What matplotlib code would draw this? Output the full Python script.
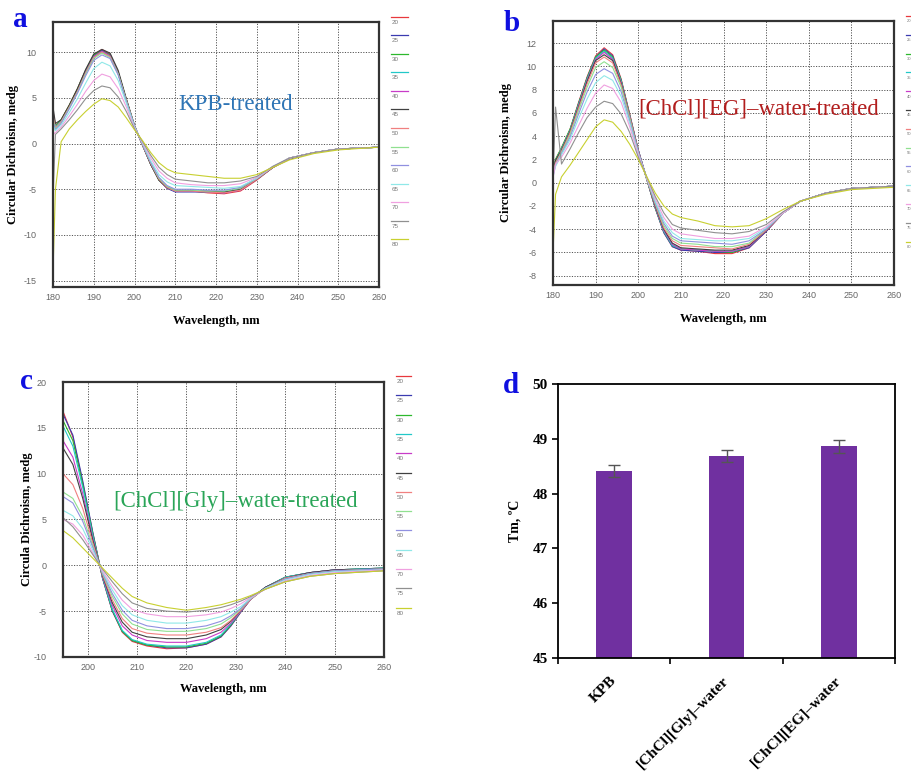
import matplotlib
matplotlib.use("Agg")
import matplotlib.pyplot as plt
from matplotlib.lines import Line2D

plt.rcParams['axes.unicode_minus'] = False

# -----------------------------------------------------------------------------
# data
# -----------------------------------------------------------------------------
temps = [20, 25, 30, 35, 40, 45, 50, 55, 60, 65, 70, 75, 80]
temp_colors = ['#e8383d', '#3b3bb0', '#2db82d', '#22c8c8', '#c83cc8', '#404040',
               '#f08080', '#90e090', '#9090e0', '#90e8e8', '#f0a0e0', '#909090',
               '#c8d030']

wl_a = [180, 180.6, 182, 184, 186, 188, 190, 192, 194, 196, 198, 200, 202, 204,
        206, 208, 210, 214, 218, 222, 226, 230, 234, 238, 244, 250, 260]
cd_a = [
    [3.5, 2.0, 2.6, 4.2, 6.0, 8.0, 9.7, 10.3, 9.8, 7.8, 4.8, 1.9, -0.2, -2.3, -4.0, -4.9, -5.2, -5.2, -5.4, -5.5, -5.2, -4.0, -2.6, -1.7, -1.0, -0.6, -0.4],
    [3.0, 1.8, 2.5, 4.1, 5.9, 7.9, 9.6, 10.2, 9.7, 7.7, 4.7, 1.9, -0.2, -2.3, -4.0, -4.9, -5.3, -5.3, -5.3, -5.4, -5.1, -3.9, -2.6, -1.7, -1.0, -0.6, -0.4],
    [2.8, 1.9, 2.6, 4.2, 6.0, 8.0, 9.7, 10.1, 9.7, 7.8, 4.8, 1.9, -0.2, -2.3, -4.0, -4.8, -5.2, -5.2, -5.3, -5.3, -5.0, -3.9, -2.6, -1.6, -1.0, -0.6, -0.4],
    [3.2, 1.8, 2.5, 4.0, 5.8, 7.8, 9.5, 10.0, 9.6, 7.7, 4.7, 1.9, -0.2, -2.2, -3.9, -4.8, -5.2, -5.2, -5.3, -5.3, -5.0, -3.9, -2.6, -1.6, -1.0, -0.6, -0.4],
    [2.5, 1.7, 2.4, 4.0, 5.8, 7.8, 9.5, 10.1, 9.6, 7.7, 4.7, 1.9, -0.2, -2.2, -3.9, -4.8, -5.2, -5.2, -5.3, -5.4, -5.1, -3.9, -2.6, -1.6, -1.0, -0.6, -0.4],
    [4.0, 2.2, 2.6, 4.2, 6.0, 8.1, 9.8, 10.3, 9.9, 8.0, 4.9, 2.0, -0.2, -2.3, -4.0, -4.8, -5.1, -5.1, -5.2, -5.3, -5.0, -3.9, -2.6, -1.6, -1.0, -0.6, -0.4],
    [3.0, 1.7, 2.4, 4.0, 5.7, 7.7, 9.4, 10.0, 9.5, 7.6, 4.7, 1.9, -0.2, -2.2, -3.9, -4.8, -5.2, -5.2, -5.3, -5.4, -5.1, -3.9, -2.6, -1.6, -1.0, -0.6, -0.4],
    [2.6, 1.6, 2.3, 3.9, 5.6, 7.6, 9.3, 9.9, 9.4, 7.6, 4.7, 1.9, -0.1, -2.1, -3.8, -4.7, -5.1, -5.1, -5.2, -5.2, -4.9, -3.8, -2.5, -1.6, -1.0, -0.6, -0.4],
    [2.4, 1.5, 2.2, 3.8, 5.5, 7.4, 9.1, 9.7, 9.3, 7.5, 4.6, 1.9, -0.1, -2.1, -3.7, -4.6, -5.0, -5.0, -5.1, -5.1, -4.8, -3.8, -2.5, -1.6, -1.0, -0.6, -0.4],
    [2.0, 1.4, 2.0, 3.4, 4.9, 6.6, 8.2, 8.9, 8.5, 6.9, 4.4, 1.8, 0.0, -1.9, -3.4, -4.2, -4.6, -4.7, -4.8, -4.9, -4.7, -3.8, -2.5, -1.6, -1.0, -0.6, -0.4],
    [1.0, 1.2, 1.8, 3.0, 4.3, 5.7, 6.9, 7.6, 7.3, 6.0, 4.0, 1.7, 0.1, -1.6, -3.0, -3.8, -4.3, -4.5, -4.6, -4.6, -4.4, -3.7, -2.5, -1.6, -1.0, -0.6, -0.4],
    [-6.0, 1.0, 1.6, 2.6, 3.7, 4.9, 5.8, 6.3, 6.1, 5.1, 3.5, 1.6, 0.2, -1.3, -2.6, -3.4, -3.9, -4.1, -4.3, -4.3, -4.1, -3.6, -2.5, -1.6, -1.0, -0.6, -0.4],
    [-14.0, -5.0, 0.2, 1.6, 2.6, 3.5, 4.3, 4.9, 4.7, 4.0, 2.8, 1.5, 0.3, -1.0, -2.1, -2.8, -3.2, -3.4, -3.6, -3.8, -3.8, -3.4, -2.6, -1.8, -1.1, -0.7, -0.4],
]

wl_b = [180, 180.6, 182, 184, 186, 188, 190, 192, 194, 196, 198, 200, 202, 204,
        206, 208, 210, 214, 218, 222, 226, 230, 234, 238, 244, 250, 260]
cd_b = [
    [1.0, 2.0, 3.0, 4.6, 6.9, 9.1, 10.9, 11.6, 11.0, 8.9, 5.9, 2.8, 0.3, -2.2, -4.3, -5.5, -5.8, -5.9, -6.1, -6.1, -5.6, -4.2, -2.6, -1.6, -0.9, -0.5, -0.3],
    [0.8, 1.8, 2.9, 4.5, 6.8, 9.0, 10.8, 11.5, 10.9, 8.8, 5.8, 2.8, 0.3, -2.2, -4.3, -5.5, -5.8, -5.9, -6.0, -6.0, -5.6, -4.2, -2.6, -1.6, -0.9, -0.5, -0.3],
    [1.2, 2.0, 3.0, 4.6, 6.8, 9.0, 10.8, 11.4, 10.8, 8.8, 5.8, 2.8, 0.3, -2.2, -4.2, -5.4, -5.7, -5.8, -5.9, -6.0, -5.5, -4.1, -2.6, -1.6, -0.9, -0.5, -0.3],
    [0.9, 1.9, 2.9, 4.5, 6.7, 8.9, 10.7, 11.3, 10.7, 8.7, 5.7, 2.8, 0.3, -2.1, -4.2, -5.4, -5.7, -5.8, -5.9, -5.9, -5.5, -4.1, -2.6, -1.6, -0.9, -0.5, -0.3],
    [1.0, 1.8, 2.8, 4.4, 6.6, 8.8, 10.6, 11.2, 10.6, 8.6, 5.7, 2.8, 0.3, -2.1, -4.1, -5.3, -5.7, -5.8, -5.9, -5.9, -5.5, -4.1, -2.6, -1.6, -0.9, -0.5, -0.3],
    [1.1, 1.9, 2.8, 4.4, 6.5, 8.7, 10.5, 11.0, 10.5, 8.5, 5.6, 2.7, 0.3, -2.0, -4.0, -5.2, -5.6, -5.7, -5.8, -5.8, -5.4, -4.1, -2.6, -1.6, -0.9, -0.5, -0.3],
    [0.8, 1.7, 2.7, 4.3, 6.4, 8.5, 10.3, 10.8, 10.3, 8.4, 5.6, 2.7, 0.3, -1.9, -3.9, -5.0, -5.4, -5.5, -5.6, -5.7, -5.3, -4.1, -2.6, -1.6, -0.9, -0.5, -0.3],
    [0.7, 1.6, 2.6, 4.1, 6.2, 8.2, 9.9, 10.4, 9.9, 8.2, 5.5, 2.6, 0.3, -1.8, -3.7, -4.8, -5.2, -5.3, -5.5, -5.5, -5.2, -4.0, -2.6, -1.6, -0.9, -0.5, -0.3],
    [0.6, 1.5, 2.5, 3.9, 5.9, 7.8, 9.3, 9.8, 9.4, 7.8, 5.3, 2.6, 0.4, -1.7, -3.5, -4.6, -5.0, -5.1, -5.2, -5.3, -5.0, -4.0, -2.6, -1.6, -0.9, -0.5, -0.3],
    [0.5, 1.4, 2.4, 3.7, 5.5, 7.2, 8.6, 9.2, 8.8, 7.4, 5.1, 2.5, 0.4, -1.6, -3.3, -4.3, -4.8, -4.9, -5.0, -5.0, -4.8, -3.9, -2.6, -1.6, -0.9, -0.5, -0.3],
    [0.4, 1.6, 2.2, 3.4, 4.9, 6.4, 7.7, 8.4, 8.1, 6.9, 4.8, 2.4, 0.4, -1.4, -3.0, -4.0, -4.4, -4.6, -4.8, -4.8, -4.6, -3.8, -2.6, -1.6, -0.9, -0.5, -0.3],
    [0.2, 6.5, 1.6, 2.9, 4.3, 5.6, 6.5, 7.0, 6.8, 5.9, 4.3, 2.2, 0.5, -1.2, -2.6, -3.6, -3.9, -4.1, -4.3, -4.4, -4.2, -3.6, -2.5, -1.6, -0.9, -0.5, -0.3],
    [-6.0, -1.0, 0.5, 1.5, 2.6, 3.7, 4.8, 5.4, 5.2, 4.4, 3.3, 2.0, 0.5, -0.9, -2.0, -2.7, -3.0, -3.3, -3.7, -3.8, -3.7, -3.1, -2.3, -1.6, -1.0, -0.6, -0.4],
]

wl_c = [195, 197, 199, 201, 203, 205, 207, 209, 212, 216, 220, 224, 227, 229,
        231, 233, 236, 240, 245, 250, 260]
cd_c = [
    [16.8, 14.0, 9.0, 3.6, -1.4, -5.0, -7.3, -8.3, -8.8, -9.1, -9.0, -8.6, -7.8, -6.6, -5.1, -3.7, -2.4, -1.3, -0.8, -0.5, -0.3],
    [16.5, 14.2, 9.2, 3.7, -1.4, -5.0, -7.2, -8.2, -8.7, -9.0, -9.0, -8.6, -7.8, -6.6, -5.1, -3.7, -2.4, -1.3, -0.8, -0.5, -0.3],
    [15.8, 13.6, 8.8, 3.5, -1.3, -4.9, -7.2, -8.2, -8.7, -8.9, -8.9, -8.5, -7.7, -6.5, -5.0, -3.7, -2.4, -1.3, -0.8, -0.5, -0.3],
    [15.2, 13.0, 8.5, 3.3, -1.3, -4.8, -7.1, -8.1, -8.6, -8.8, -8.8, -8.4, -7.6, -6.4, -5.0, -3.6, -2.4, -1.3, -0.8, -0.5, -0.3],
    [13.6, 11.8, 7.8, 3.0, -1.2, -4.4, -6.6, -7.6, -8.2, -8.4, -8.4, -8.0, -7.3, -6.3, -5.0, -3.7, -2.4, -1.4, -0.8, -0.5, -0.4],
    [12.8, 11.0, 7.3, 2.8, -1.1, -4.1, -6.2, -7.3, -7.8, -8.0, -8.0, -7.6, -7.0, -6.1, -4.9, -3.6, -2.4, -1.4, -0.8, -0.5, -0.4],
    [10.0, 8.8, 6.2, 2.5, -1.0, -3.8, -5.8, -6.9, -7.4, -7.6, -7.6, -7.3, -6.8, -6.0, -4.9, -3.7, -2.5, -1.4, -0.9, -0.6, -0.4],
    [8.0, 7.3, 5.3, 2.2, -0.9, -3.4, -5.3, -6.4, -7.0, -7.2, -7.2, -6.9, -6.4, -5.7, -4.8, -3.6, -2.5, -1.5, -0.9, -0.6, -0.4],
    [7.5, 6.8, 4.8, 2.0, -0.8, -3.1, -4.9, -6.0, -6.6, -6.9, -6.9, -6.6, -6.1, -5.5, -4.7, -3.6, -2.5, -1.5, -0.9, -0.6, -0.4],
    [6.0, 5.4, 4.0, 1.7, -0.7, -2.7, -4.4, -5.4, -6.0, -6.3, -6.3, -6.0, -5.6, -5.1, -4.5, -3.6, -2.5, -1.6, -1.0, -0.7, -0.5],
    [5.0, 4.5, 3.3, 1.4, -0.6, -2.3, -3.8, -4.8, -5.3, -5.6, -5.6, -5.4, -5.1, -4.7, -4.2, -3.5, -2.6, -1.7, -1.1, -0.8, -0.5],
    [5.2, 4.2, 2.8, 1.2, -0.4, -1.8, -3.1, -4.1, -4.7, -5.0, -5.1, -4.9, -4.6, -4.3, -3.9, -3.4, -2.6, -1.8, -1.2, -0.9, -0.6],
    [3.8, 3.0, 1.9, 0.8, -0.3, -1.4, -2.5, -3.4, -4.1, -4.6, -4.9, -4.6, -4.3, -4.0, -3.7, -3.3, -2.6, -1.8, -1.2, -0.9, -0.6],
]

groups = ['KPB', '[ChCl][Gly]\u2013water', '[ChCl][EG]\u2013water']
tm_values = [48.42, 48.69, 48.86]
tm_errors = [0.11, 0.11, 0.11]

# -----------------------------------------------------------------------------
# figure layout (pixel boxes of the reference, 911 x 774)
# -----------------------------------------------------------------------------
W, H = 911, 774
fig = plt.figure(figsize=(W / 100, H / 100), dpi=100)
fig.patch.set_facecolor('white')

SERIF = 'Liberation Serif'
SANS = 'Liberation Sans'


def box(x0, y0, x1, y1):
    return [x0 / W, 1 - y1 / H, (x1 - x0) / W, (y1 - y0) / H]


def fx(x):
    return x / W


def fy(y):
    return 1 - y / H


def cd_panel(rect, wl, curves, xlim, ylim, xticks, yticks, ylabel, ylabelpad, xlabelpad):
    ax = fig.add_axes(rect)
    for vals, c in zip(curves, temp_colors):
        ax.plot(wl, vals, color=c, lw=0.8)
    ax.set_xlim(*xlim)
    ax.set_ylim(*ylim)
    ax.set_xticks(xticks)
    ax.set_yticks(yticks)
    ax.tick_params(length=0, labelsize=6.5, labelcolor='#666666')
    ax.tick_params(axis='x', pad=4)
    ax.tick_params(axis='y', pad=12)
    for lab in ax.get_xticklabels() + ax.get_yticklabels():
        lab.set_family(SANS)
    ax.grid(True, color='#555555', lw=0.7, ls=(0, (1.2, 1.5)))
    for s in ax.spines.values():
        s.set_color('#333333')
        s.set_linewidth(1.6)
    ax.set_xlabel('Wavelength, nm', family=SERIF, weight='bold', fontsize=9,
                  labelpad=xlabelpad)
    ax.set_ylabel(ylabel, family=SERIF, weight='bold', fontsize=9, labelpad=ylabelpad)
    return ax


def temp_legend(x0, x1, y_first, step, size=4.5):
    for i, (t, c) in enumerate(zip(temps, temp_colors)):
        y = y_first + i * step
        fig.add_artist(Line2D([fx(x0), fx(x1)], [fy(y), fy(y)], color=c, lw=0.9))
        fig.text(fx(x0 + 1), fy(y + 5.5), str(t), fontsize=size, color='#777777',
                 family=SANS, va='center', ha='left')


def panel_letter(x, y, s):
    fig.text(fx(x), fy(y), s, family=SERIF, weight='bold', fontsize=21,
             color='#1010e0', va='baseline', ha='left')


# panel a
ax_a = cd_panel(box(53, 22, 379, 287), wl_a, cd_a, (180, 260), (-15.7, 13.3),
                range(180, 261, 10), [-15, -10, -5, 0, 5, 10],
                'Circular Dichroism, medg', 3, 10)
ax_a.text(0.385, 0.69, 'KPB-treated', transform=ax_a.transAxes, family=SERIF,
          fontsize=16.5, color='#2e75b6', va='center')
temp_legend(391, 408, 16.7, 18.55)
panel_letter(13, 27, 'a')

# panel b
ax_b = cd_panel(box(553, 21, 894, 285), wl_b, cd_b, (180, 260), (-8.8, 13.9),
                range(180, 261, 10), list(range(-8, 13, 2)),
                'Circular Dichroism, medg', 10, 10)
ax_b.text(0.25, 0.665, '[ChCl][EG]\u2013water-treated', transform=ax_b.transAxes,
          family=SERIF, fontsize=16.5, color='#b21e1e', va='center')
temp_legend(906, 925, 16.0, 18.8, size=3)
panel_letter(504, 31, 'b')

# panel c
ax_c = cd_panel(box(63, 382, 384, 657), wl_c, cd_c, (195, 260), (-10, 20),
                range(200, 261, 10), [-10, -5, 0, 5, 10, 15, 20],
                'Circula Dichroism, medg', 0, 8)
ax_c.text(0.155, 0.565, '[ChCl][Gly]\u2013water-treated', transform=ax_c.transAxes,
          family=SERIF, fontsize=16.5, color='#2aa558', va='center')
temp_legend(396, 411, 376, 19.3)
panel_letter(20, 389, 'c')

# panel d
ax_d = fig.add_axes(box(558, 384, 895, 658))
pos = [0.5, 1.5, 2.5]
ax_d.bar(pos, tm_values, width=0.32, color='#7030a0', yerr=tm_errors,
         error_kw=dict(ecolor='#555555', elinewidth=1.0, capsize=4, capthick=1.0))
ax_d.set_xlim(0, 3)
ax_d.set_ylim(45, 50)
ax_d.set_yticks([45, 46, 47, 48, 49, 50])
ax_d.set_xticks([0, 1, 2, 3])
ax_d.set_xticklabels([])
ax_d.set_xticks(pos, minor=True)
ax_d.set_xticklabels(groups, minor=True, rotation=45, ha='right', va='center',
                     rotation_mode='anchor', family=SERIF, weight='bold', fontsize=11)
ax_d.tick_params(axis='x', which='minor', length=0, pad=15)
ax_d.tick_params(axis='x', which='major', length=4, width=1.2, direction='out')
ax_d.tick_params(axis='y', length=4, width=1.2, direction='out', labelsize=11)
for lab in ax_d.get_yticklabels():
    lab.set_family(SERIF)
    lab.set_weight('bold')
for s in ax_d.spines.values():
    s.set_linewidth(1.3)
ax_d.set_ylabel('Tm, \u00baC', family=SERIF, weight='bold', fontsize=10, labelpad=8)
panel_letter(503, 393, 'd')

fig.savefig('out.png', dpi=100)
